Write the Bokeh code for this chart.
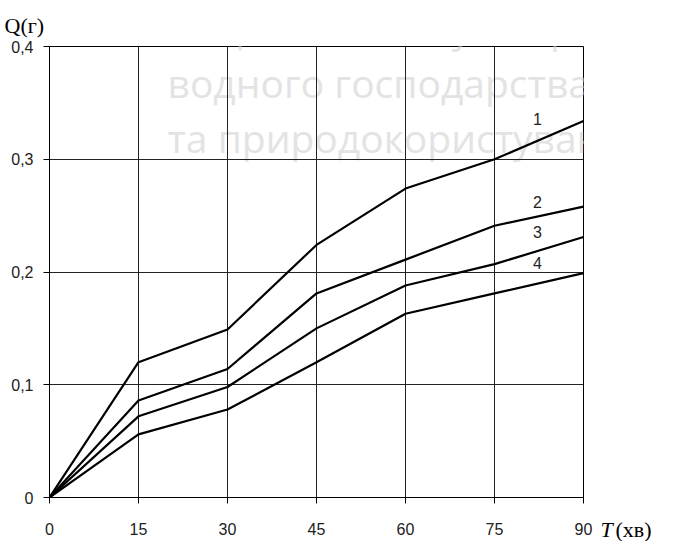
from bokeh.plotting import figure
from bokeh.models import Range1d, FixedTicker, CustomJSTickFormatter, Label, Title
from bokeh.layouts import row
from bokeh.embed import file_html
from bokeh.resources import INLINE

# ---- data ----
T = [0, 15, 30, 45, 60, 75, 90]
q1 = [0, 0.120, 0.149, 0.224, 0.274, 0.300, 0.334]
q2 = [0, 0.086, 0.114, 0.181, 0.211, 0.241, 0.258]
q3 = [0, 0.072, 0.098, 0.150, 0.188, 0.207, 0.231]
q4 = [0, 0.056, 0.078, 0.120, 0.163, 0.181, 0.199]
series = [q1, q2, q3, q4]
curve_names = ["1", "2", "3", "4"]
x_ticks = [0, 15, 30, 45, 60, 75, 90]
y_ticks = [0, 0.1, 0.2, 0.3, 0.4]
watermark = ["Національний університет", "водного господарства", "та природокористування"]
y_title = "Q(г)"
x_title = ["T", "(хв)"]

# label anchors (data coordinates)
name_x = 82.25
name_y = [0.336, 0.262, 0.2355, 0.208]

H = 541
p = figure(width=600, height=H, output_backend="svg", toolbar_location=None, title=None,
           x_range=Range1d(0, 90), y_range=Range1d(0, 0.4),
           min_border_left=49, min_border_right=17, min_border_top=46, min_border_bottom=44)
p.background_fill_color = "white"
p.border_fill_color = "white"
p.outline_line_color = "black"
p.outline_line_alpha = 1.0
p.outline_line_width = 1

# watermark (faint, behind everything); screen units relative to the frame
wm_y = [470, 415, 360]
for txt, yy in zip(watermark, wm_y):
    p.add_layout(Label(x=118, y=yy, x_units="screen", y_units="screen", text=txt,
                       text_font="Open Sans", text_font_size="39px",
                       text_color="#e3e3e3", text_baseline="alphabetic", text_align="left",
                       level="image"))

for ax in (p.xaxis[0], p.yaxis[0]):
    ax.axis_line_color = "black"
    ax.major_tick_line_color = "black"
    ax.major_tick_out = 6
    ax.major_tick_in = 0
    ax.minor_tick_line_color = None
    ax.major_label_text_font = "Liberation Sans"
    ax.major_label_text_font_size = "16px"
    ax.major_label_text_color = "#222222"
    ax.major_label_text_font_style = "normal"

p.xaxis.ticker = FixedTicker(ticks=x_ticks)
p.yaxis.ticker = FixedTicker(ticks=y_ticks)
p.xaxis.major_label_standoff = 19
p.yaxis.major_label_standoff = 10
p.yaxis.formatter = CustomJSTickFormatter(
    code="return tick == 0 ? '0' : tick.toFixed(1).replace('.', ',');")

p.xgrid.ticker = FixedTicker(ticks=x_ticks)
p.ygrid.ticker = FixedTicker(ticks=y_ticks)
for g in (p.xgrid[0], p.ygrid[0]):
    g.grid_line_color = "#222222"
    g.grid_line_alpha = 1.0
    g.grid_line_width = 1

for s in series:
    p.line(T, s, line_color="black", line_width=2.2)

for nm, yy in zip(curve_names, name_y):
    p.add_layout(Label(x=name_x, y=yy, text=nm, text_font="Liberation Sans",
                       text_font_size="16px", text_color="#222222",
                       text_align="center", text_baseline="middle"))

# y-axis title at the top-left
p.add_layout(Title(text=y_title, align="left", offset=-45, standoff=18,
                   text_font="Liberation Serif", text_font_size="22px",
                   text_font_style="normal", text_color="black"), "above")


# two narrow side panels carrying the x-axis title ("T" italic, "(хв)" upright)
def side_panel(width, txt, italic):
    q = figure(width=width, height=H, output_backend="svg", toolbar_location=None,
               title=None, x_axis_type=None, y_axis_type=None,
               x_range=Range1d(0, 1), y_range=Range1d(0, 1),
               min_border_left=0, min_border_right=0, min_border_top=0, min_border_bottom=0)
    q.outline_line_color = None
    q.grid.visible = False
    q.background_fill_color = "white"
    q.border_fill_color = "white"
    # blank spacer row, then the title text below it
    q.add_layout(Title(text=" ", standoff=0, text_font_size="13px"), "below")
    q.add_layout(Title(text=txt, align="left", offset=0, standoff=0,
                       text_font="Liberation Serif", text_font_size="22px",
                       text_font_style="italic" if italic else "normal",
                       text_color="black"), "below")
    return q


pT = side_panel(15, x_title[0], True)
pX = side_panel(42, x_title[1], False)

layout = row(p, pT, pX, spacing=0)
open("out.html", "w").write(file_html(layout, INLINE))
